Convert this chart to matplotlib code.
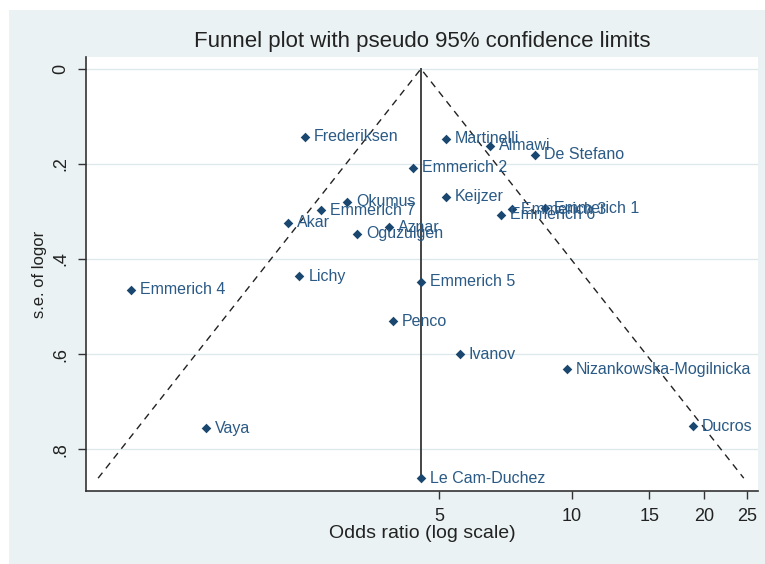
import numpy as np
import matplotlib
matplotlib.use("Agg")
import matplotlib.pyplot as plt
from matplotlib.patches import Rectangle
from matplotlib.ticker import FixedLocator, FixedFormatter, NullLocator

plt.rcParams['font.family'] = ['Liberation Sans', 'DejaVu Sans']

studies = ["Frederiksen", "Martinelli", "Almawi", "De Stefano", "Emmerich 2",
           "Keijzer", "Okumus", "Emmerich 7", "Akar", "Aznar", "Oguzulgen",
           "Emmerich 6", "Emmerich 3", "Emmerich 1", "Lichy", "Emmerich 4",
           "Emmerich 5", "Penco", "Ivanov", "Nizankowska-Mogilnicka", "Ducros",
           "Vaya", "Le Cam-Duchez"]
odds_ratio = [2.48, 5.19, 6.53, 8.26, 4.37,
              5.19, 3.09, 2.70, 2.27, 3.85, 3.26,
              6.91, 7.32, 8.70, 2.41, 1.00,
              4.55, 3.93, 5.58, 9.76, 18.85,
              1.48, 4.55]
se_logor = [0.143, 0.147, 0.162, 0.181, 0.208,
            0.269, 0.280, 0.297, 0.324, 0.333, 0.347,
            0.307, 0.295, 0.293, 0.436, 0.465,
            0.448, 0.531, 0.600, 0.632, 0.752,
            0.756, 0.861]
pooled_or = 4.55
x_ticks = [5, 10, 15, 20, 25]
x_ticklabels = ["5", "10", "15", "20", "25"]
y_ticks = [0, 0.2, 0.4, 0.6, 0.8]
y_ticklabels = ["0", ".2", ".4", ".6", ".8"]

navy = "#1a476f"
bg = "#EAF2F3"

fig = plt.figure(figsize=(7.65, 5.64), dpi=100)
fig.patch.set_facecolor("white")
fig.patches.append(Rectangle((9/765, 0), 1 - 9/765, 1 - 10/564,
                             transform=fig.transFigure, facecolor=bg,
                             edgecolor="none", zorder=-10))

ax = fig.add_axes([86/765, 1 - 491/564, (758 - 86)/765, (491 - 57)/564])
ax.set_facecolor("white")
ax.set_xscale("log")

se_max = max(se_logor)
lo = pooled_or * np.exp(-1.96 * se_max)
hi = pooled_or * np.exp(1.96 * se_max)
ax.plot([lo, pooled_or, hi], [se_max, 0, se_max], color="#222222",
        lw=1.0, ls=(0, (5, 4)), zorder=2)
ax.plot([pooled_or, pooled_or], [0, se_max], color="#444444", lw=1.4, zorder=2)

ax.scatter(odds_ratio, se_logor, marker="D", s=24, color=navy, zorder=4,
           linewidths=0)
for name, x, y in zip(studies, odds_ratio, se_logor):
    ax.annotate(name, (x, y), xytext=(6.5, 0), textcoords="offset points",
                va="center", ha="left", fontsize=11.5, color="#2a5a85", zorder=5)

ax.set_xlim(0.79, 26.5)
ax.set_ylim(0.888, -0.025)

ax.xaxis.set_major_locator(FixedLocator(x_ticks))
ax.xaxis.set_major_formatter(FixedFormatter(x_ticklabels))
ax.xaxis.set_minor_locator(NullLocator())
ax.set_yticks(y_ticks)
ax.set_yticklabels(y_ticklabels, rotation=90, va="center")

for y in y_ticks:
    ax.axhline(y, color="#DCE8EC", lw=0.9, zorder=0)

for s in ["top", "right"]:
    ax.spines[s].set_visible(False)
for s in ["left", "bottom"]:
    ax.spines[s].set_color("#333333")
    ax.spines[s].set_linewidth(1.2)
ax.tick_params(axis="both", direction="out", length=6, width=1.0,
               color="#333333", labelsize=13, labelcolor="#222222")
ax.tick_params(axis="x", pad=6)
ax.tick_params(axis="y", pad=6)

ax.set_xlabel("Odds ratio (log scale)", fontsize=14, color="#222222", labelpad=0)
ax.set_ylabel("s.e. of logor", fontsize=12, color="#222222", labelpad=4)
fig.text(422/765, 1 - 41/564, "Funnel plot with pseudo 95% confidence limits",
         ha="center", va="center", fontsize=16, color="#222222")

fig.savefig("out.png", dpi=100, facecolor=fig.get_facecolor())
